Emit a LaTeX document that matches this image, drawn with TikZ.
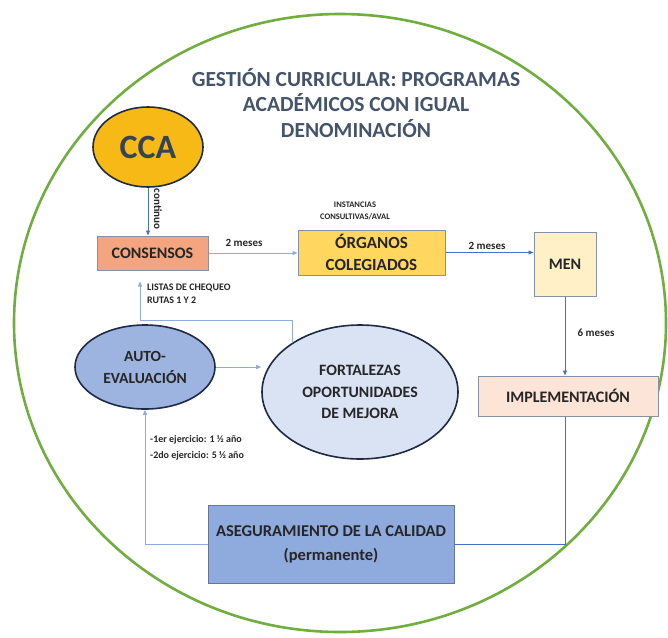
\documentclass[tikz,border=0pt]{standalone}
\usepackage{fontspec}
\setmainfont{Carlito}
\usetikzlibrary{shapes.geometric,arrows.meta,calc}
\definecolor{titlec}{HTML}{44546A}
\definecolor{txt}{HTML}{262626}
\definecolor{navy}{HTML}{1F2A44}
\definecolor{ccafill}{HTML}{F7B916}
\definecolor{consfill}{HTML}{F4A47E}
\definecolor{orgfill}{HTML}{FFD75E}
\definecolor{menfill}{HTML}{FFF0C8}
\definecolor{implfill}{HTML}{FCE4D6}
\definecolor{asegfill}{HTML}{8FAADC}
\definecolor{autofill}{HTML}{9DB4E0}
\definecolor{fortfill}{HTML}{DAE3F3}
\definecolor{boxborder}{HTML}{8592A6}
\definecolor{arrc}{HTML}{4472C4}
\definecolor{lightarr}{HTML}{8FAADC}
\definecolor{ringc}{HTML}{6FAE3F}
\tikzset{
  rectbox/.style={draw=boxborder, line width=1pt, text=txt, font=\bfseries\fontsize{16}{22}\selectfont, align=center, inner sep=2pt},
  ellbox/.style={ellipse, draw=navy, line width=1.6pt, text=txt, font=\bfseries\fontsize{15.5}{22}\selectfont, align=center, inner sep=0pt},
  arr/.style={draw=arrc, line width=0.9pt, -{Triangle[length=5pt,width=4pt]}},
  larr/.style={draw=lightarr, line width=0.9pt, -{Triangle[length=5pt,width=4pt]}},
  plainline/.style={draw=arrc, line width=0.9pt},
  lbl/.style={text=txt, font=\bfseries\fontsize{11}{13}\selectfont, inner sep=1pt},
  smalllbl/.style={text=txt, font=\bfseries\fontsize{8.5}{11.5}\selectfont, inner sep=1pt, align=center},
}
\begin{document}
\begin{tikzpicture}[x=1pt,y=-1pt]
\useasboundingbox (0,0) rectangle (668,637);
\fill[white] (0,0) rectangle (668,637);
% ring
\draw[ringc, line width=2.6pt] (340,323) ellipse [x radius=326, y radius=309];
% title
\node[text=titlec, font=\bfseries\fontsize{21.5}{25.5}\selectfont, align=center] (title) at (356,103)
  {GESTIÓN CURRICULAR: PROGRAMAS\\ACADÉMICOS CON IGUAL\\DENOMINACIÓN};
% nodes
\node[ellbox, fill=ccafill, minimum width=110pt, minimum height=80pt, text=titlec!80!black, font=\bfseries\fontsize{34}{40}\selectfont] (cca) at (148,147) {CCA};
\node[rectbox, fill=consfill, minimum width=111pt, minimum height=34pt] (cons) at (152.5,253) {CONSENSOS};
\node[rectbox, fill=orgfill, minimum width=147pt, minimum height=45pt, font=\bfseries\fontsize{17}{22}\selectfont] (org) at (371.5,252.5) {ÓRGANOS\\COLEGIADOS};
\node[rectbox, fill=menfill, minimum width=62pt, minimum height=64pt] (men) at (565,264) {MEN};
\node[rectbox, fill=implfill, minimum width=180pt, minimum height=40pt] (impl) at (568,396) {IMPLEMENTACIÓN};
\node[rectbox, fill=asegfill, draw=asegfill!70!black, minimum width=246pt, minimum height=78pt, font=\bfseries\fontsize{16.5}{24}\selectfont] (aseg) at (331,544) {ASEGURAMIENTO DE LA CALIDAD\\(permanente)};
\node[ellbox, fill=autofill, minimum width=140pt, minimum height=84pt] (auto) at (145,367) {AUTO-\\EVALUACIÓN};
\node[ellbox, fill=fortfill, minimum width=196pt, minimum height=134pt, font=\bfseries\fontsize{15.8}{21.5}\selectfont] (fort) at (360,392) {FORTALEZAS\\OPORTUNIDADES\\DE MEJORA};
% labels
\node[smalllbl, rotate=-90, font=\bfseries\fontsize{11}{13}\selectfont] (lcont) at (158,209) {continuo};
\node[lbl] (l2a) at (244,243) {2 meses};
\node[smalllbl] (linst) at (355,211) {INSTANCIAS\\CONSULTIVAS/AVAL};
\node[lbl] (l2b) at (487,246) {2 meses};
\node[lbl] (l6) at (596,333) {6 meses};
\node[smalllbl, anchor=west, align=left, font=\bfseries\fontsize{10}{13}\selectfont] (llist) at (146,294) {LISTAS DE CHEQUEO\\RUTAS 1 Y 2};
\node[smalllbl, anchor=west, align=left, font=\bfseries\fontsize{10}{16}\selectfont] (lejer) at (149,448) {-1er ejercicio: 1 ½ año\\-2do ejercicio: 5 ½ año};
% connectors
\draw[arr] (cca.south) -- (cca.south |- cons.north);
\draw[larr] (cons.east) -- (cons.east -| org.west);
\draw[arr] (org.east) -- (org.east -| men.west);
\draw[arr] (men.south) -- (men.south |- impl.north);
\draw[plainline] (men.south |- impl.south) |- (aseg.east);
\draw[larr] (aseg.west) -| (auto.south);
\draw[larr] (auto.east) -- (auto.east -| fort.west);
\coordinate (lk) at (140,320);
\draw[larr, shorten >=11pt] (fort.144) |- (lk) -- (lk |- cons.south);
\end{tikzpicture}
\end{document}
